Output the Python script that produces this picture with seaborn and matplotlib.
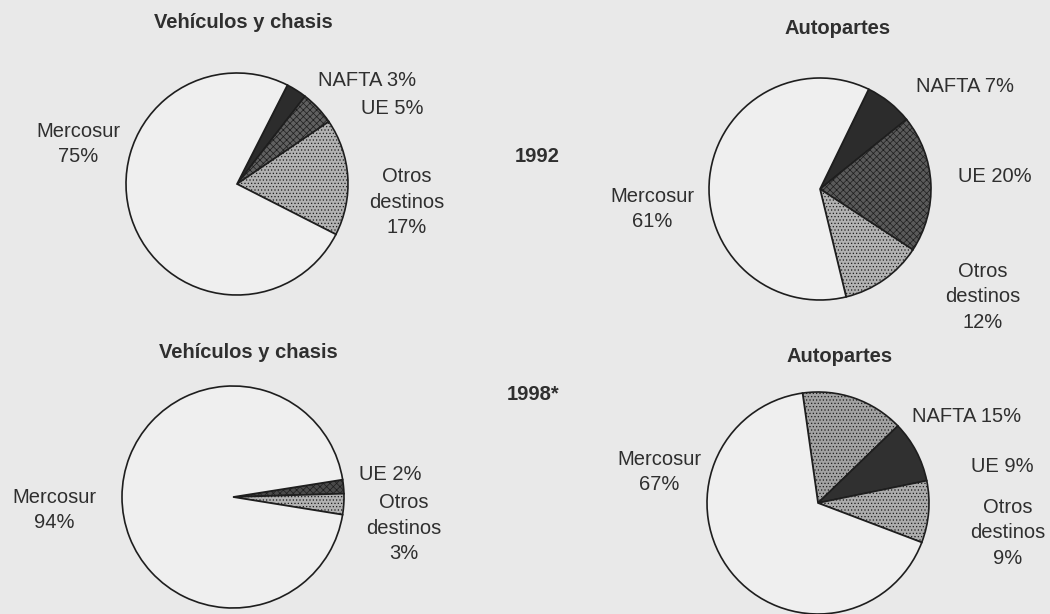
import matplotlib
matplotlib.use("Agg")
import matplotlib.pyplot as plt
import seaborn as sns

# ---------------- data ----------------
years = ["1992", "1998*"]
panel_titles = ["Vehículos y chasis", "Autopartes"]

veh_1992_cats = ["NAFTA", "UE", "Otros destinos", "Mercosur"]
veh_1992_vals = [3, 5, 17, 75]

aut_1992_cats = ["NAFTA", "UE", "Otros destinos", "Mercosur"]
aut_1992_vals = [7, 20, 12, 61]

veh_1998_cats = ["UE", "Otros destinos", "Mercosur"]
veh_1998_vals = [2, 3, 94]

aut_1998_cats = ["NAFTA", "UE", "Otros destinos", "Mercosur"]
aut_1998_vals = [15, 9, 9, 67]

# ---------------- style ----------------
sns.set_theme(style="white")
plt.rcParams["font.family"] = ["Liberation Sans", "DejaVu Sans"]
plt.rcParams["hatch.linewidth"] = 0.5

BG = "#e9e9e9"
TXT = "#2f2f2f"
EDGE = "#1e1e1e"
W, H = 1050, 614

fig = plt.figure(figsize=(W / 100, H / 100), dpi=100, facecolor=BG)
ax = fig.add_axes([0, 0, 1, 1])
ax.set_facecolor(BG)


def Y(y):
    return H - y


# fill styles (colour, hatch) per category, per chart
styles_veh92 = {"NAFTA": ("#2c2c2c", None), "UE": ("#606060", "xxxxx"),
                "Otros destinos": ("#b2b2b2", "....."), "Mercosur": ("#efefef", None)}
styles_aut92 = {"NAFTA": ("#2c2c2c", None), "UE": ("#5a5a5a", "xxxxx"),
                "Otros destinos": ("#b2b2b2", "....."), "Mercosur": ("#efefef", None)}
styles_veh98 = {"UE": ("#4a4a4a", "xxxxx"), "Otros destinos": ("#b2b2b2", "....."),
                "Mercosur": ("#efefef", None)}
styles_aut98 = {"NAFTA": ("#a2a2a2", "....."), "UE": ("#303030", None),
                "Otros destinos": ("#acacac", "....."), "Mercosur": ("#efefef", None)}

charts = [
    (veh_1992_cats, veh_1992_vals, styles_veh92, (237, 184), 63),
    (aut_1992_cats, aut_1992_vals, styles_aut92, (820, 189), 64),
    (veh_1998_cats, veh_1998_vals, styles_veh98, (233, 497), 9),
    (aut_1998_cats, aut_1998_vals, styles_aut98, (818, 503), 98),
]
R = 111

for cats, vals, sty, (cx, cy), start in charts:
    cols = [sty[c][0] for c in cats]
    hats = [sty[c][1] for c in cats]
    wedges, _ = ax.pie(vals, colors=cols, hatch=hats, startangle=start,
                       counterclock=False, center=(cx, Y(cy)), radius=R,
                       wedgeprops=dict(edgecolor=EDGE, linewidth=1.2))

ax.set_xlim(0, W)
ax.set_ylim(0, H)
ax.set_aspect("equal")
ax.set_position([0, 0, 1, 1])
ax.axis("off")

FS = 14.5
kw = dict(fontsize=FS, color=TXT, ha="center", va="center", linespacing=1.45)
bkw = dict(fontsize=14.5, color=TXT, ha="center", va="center", fontweight="bold")

# titles and years
ax.text(243, Y(23), panel_titles[0], **bkw)
ax.text(838, Y(28), panel_titles[1], **bkw)
ax.text(248, Y(352), panel_titles[0], **bkw)
ax.text(840, Y(357), panel_titles[1], **bkw)
ax.text(537, Y(157), years[0], **bkw)
ax.text(533, Y(395), years[1], **bkw)


def pct(vals, cats, name):
    return vals[cats.index(name)]


# labels: top-left
c, v = veh_1992_cats, veh_1992_vals
ax.text(78, Y(144), f"Mercosur\n{pct(v, c, 'Mercosur')}%", **kw)
ax.text(367, Y(80), f"NAFTA {pct(v, c, 'NAFTA')}%", **kw)
ax.text(392, Y(108), f"UE {pct(v, c, 'UE')}%", **kw)
ax.text(407, Y(202), f"Otros\ndestinos\n{pct(v, c, 'Otros destinos')}%", **kw)

# labels: top-right
c, v = aut_1992_cats, aut_1992_vals
ax.text(652, Y(209), f"Mercosur\n{pct(v, c, 'Mercosur')}%", **kw)
ax.text(965, Y(86), f"NAFTA {pct(v, c, 'NAFTA')}%", **kw)
ax.text(995, Y(177), f"UE {pct(v, c, 'UE')}%", **kw)
ax.text(983, Y(297), f"Otros\ndestinos\n{pct(v, c, 'Otros destinos')}%", **kw)

# labels: bottom-left
c, v = veh_1998_cats, veh_1998_vals
ax.text(54, Y(510), f"Mercosur\n{pct(v, c, 'Mercosur')}%", **kw)
ax.text(390, Y(475), f"UE {pct(v, c, 'UE')}%", **kw)
ax.text(404, Y(528), f"Otros\ndestinos\n{pct(v, c, 'Otros destinos')}%", **kw)

# labels: bottom-right
c, v = aut_1998_cats, aut_1998_vals
ax.text(659, Y(472), f"Mercosur\n{pct(v, c, 'Mercosur')}%", **kw)
ax.text(967, Y(417), f"NAFTA {pct(v, c, 'NAFTA')}%", **kw)
ax.text(1002, Y(467), f"UE {pct(v, c, 'UE')}%", **kw)
ax.text(1008, Y(533), f"Otros\ndestinos\n{pct(v, c, 'Otros destinos')}%", **kw)

fig.savefig("out.png", dpi=100, facecolor=BG)
